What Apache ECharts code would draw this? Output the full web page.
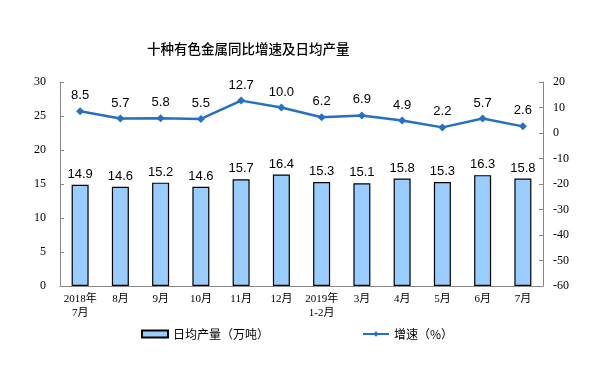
<!DOCTYPE html>
<html><head><meta charset="utf-8">
<script src="https://cdn.jsdelivr.net/npm/echarts@6/dist/echarts.min.js"></script>
<style>html,body{margin:0;padding:0;background:#fff}#c{width:612px;height:369px}</style>
</head><body><div id="c"></div>
<script>
const categories = ['2018年\n7月','8月','9月','10月','11月','12月','2019年\n1-2月','3月','4月','5月','6月','7月'];
const output = [14.9,14.6,15.2,14.6,15.7,16.4,15.3,15.1,15.8,15.3,16.3,15.8];
const growth = [8.5,5.7,5.8,5.5,12.7,10.0,6.2,6.9,4.9,2.2,5.7,2.6];
const leftTicks = {min:0,max:30,interval:5};
const rightTicks = {min:-60,max:20,interval:10};

const chart = echarts.init(document.getElementById('c'));
const cjk = '"Liberation Serif","Noto Sans CJK SC",serif';
const sans = '"Liberation Sans","Noto Sans CJK SC",sans-serif';
chart.setOption({
  animation:false,
  title:{text:'十种有色金属同比增速及日均产量',left:142,top:37,textStyle:{fontFamily:'"Noto Sans CJK SC",sans-serif',fontSize:13.5,fontWeight:500,color:'#000'}},
  grid:{left:60,right:69,top:82,bottom:83},
  legend:{bottom:24,left:136,itemGap:93,itemWidth:26,itemHeight:7,
    textStyle:{fontFamily:'"Noto Sans CJK SC",sans-serif',fontSize:12,color:'#000'},
    data:[{name:'日均产量（万吨）',icon:'rect'},{name:'增速（%）'}]},
  xAxis:{type:'category',data:categories,
    axisLine:{lineStyle:{color:'#888',width:1}},
    axisTick:{inside:true,length:4,lineStyle:{color:'#888'}},
    axisLabel:{fontFamily:cjk,fontSize:11,color:'#000',lineHeight:14,margin:6,interval:0}},
  yAxis:[
    {type:'value',min:leftTicks.min,max:leftTicks.max,interval:leftTicks.interval,splitLine:{show:false},
     axisLine:{show:true,lineStyle:{color:'#888'}},axisTick:{show:true,inside:true,length:4,lineStyle:{color:'#888'}},
     axisLabel:{fontFamily:cjk,fontSize:12,color:'#000',margin:14}},
    {type:'value',min:rightTicks.min,max:rightTicks.max,interval:rightTicks.interval,splitLine:{show:false},
     axisLine:{show:true,lineStyle:{color:'#888'}},axisTick:{show:true,inside:true,length:4,lineStyle:{color:'#888'}},
     axisLabel:{fontFamily:cjk,fontSize:12,color:'#000',margin:10}}
  ],
  series:[
    {name:'日均产量（万吨）',type:'bar',data:output,barWidth:17,yAxisIndex:0,
     itemStyle:{color:'#99CCFF',borderColor:'#000',borderWidth:1.2},
     label:{show:true,position:'top',distance:4,fontFamily:sans,fontSize:13,color:'#000',formatter:p=>p.value.toFixed(1)}},
    {name:'增速（%）',type:'line',data:growth,yAxisIndex:1,symbol:'diamond',symbolSize:8,
     lineStyle:{color:'#2670C4',width:2.5},itemStyle:{color:'#2670C4'},
     label:{show:true,position:'top',distance:5,fontFamily:sans,fontSize:13,color:'#000',formatter:p=>p.value.toFixed(1)}}
  ]
});
</script></body></html>
